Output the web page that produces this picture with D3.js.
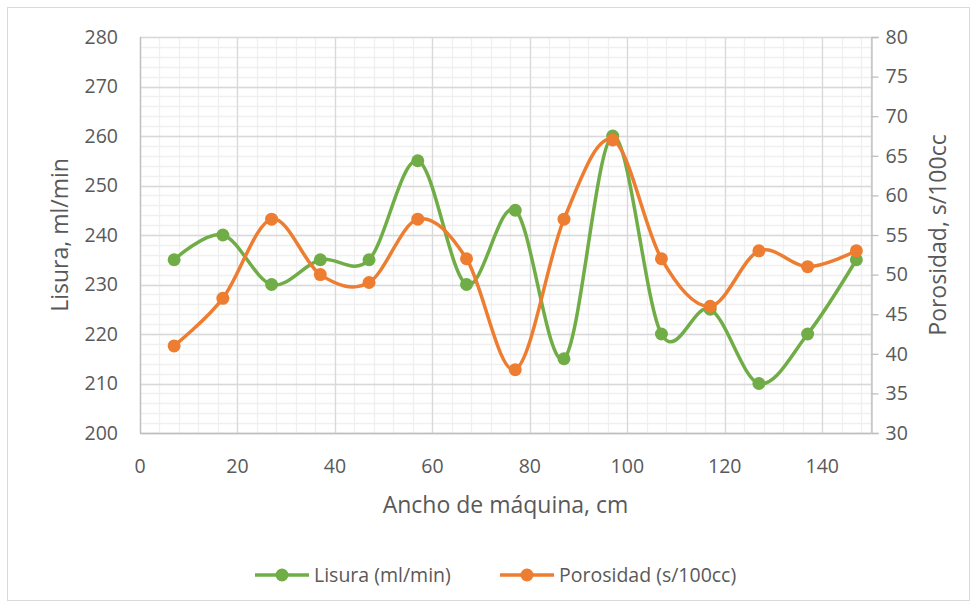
<!DOCTYPE html>
<html>
<head>
<meta charset="utf-8">
<script src="https://cdn.jsdelivr.net/npm/d3@7"></script>
<style>
  body { margin: 0; background: #fff; }
  text { font-family: "Open Sans", sans-serif; fill: #595959; }
</style>
</head>
<body>
<div id="chart"></div>
<script>
// data
const anchos = [7, 17, 27, 37, 47, 57, 67, 77, 87, 97, 107, 117, 127, 137, 147];
const lisura = [235, 240, 230, 235, 235, 255, 230, 245, 215, 260, 220, 225, 210, 220, 235];
const porosidad = [41, 47, 57, 50, 49, 57, 52, 38, 57, 67, 52, 46, 53, 51, 53];
const xTicks = [0, 20, 40, 60, 80, 100, 120, 140];
const leftTicks = [200, 210, 220, 230, 240, 250, 260, 270, 280];
const rightTicks = [30, 35, 40, 45, 50, 55, 60, 65, 70, 75, 80];

const W = 977, H = 608;
const margin = { top: 37, right: 106, bottom: 175, left: 140 };
const green = '#70AD47', orange = '#ED7D31';
const tickFont = 19.5, titleFont = 23;

const svg = d3.select('#chart').append('svg').attr('width', W).attr('height', H);

// chart border
svg.append('rect')
  .attr('x', 7.5).attr('y', 7.5)
  .attr('width', W - 15).attr('height', H - 15)
  .attr('fill', 'none').attr('stroke', '#d9d9d9');

const x = d3.scaleLinear().domain([0, 150]).range([margin.left, W - margin.right]);
const yL = d3.scaleLinear().domain([200, 280]).range([H - margin.bottom, margin.top]);
const yR = d3.scaleLinear().domain([30, 80]).range([H - margin.bottom, margin.top]);

const grid = svg.append('g');
// minor grid
grid.selectAll('.vmin').data(d3.range(0, 151, 4)).enter().append('line')
  .attr('x1', d => Math.round(x(d)) + 0.5).attr('x2', d => Math.round(x(d)) + 0.5)
  .attr('y1', yL(200)).attr('y2', yL(280))
  .attr('stroke', '#f0f0f0').attr('stroke-width', 1.3);
grid.selectAll('.hmin').data(d3.range(200, 281, 2)).enter().append('line')
  .attr('y1', d => Math.round(yL(d)) + 0.5).attr('y2', d => Math.round(yL(d)) + 0.5)
  .attr('x1', x(0)).attr('x2', x(150))
  .attr('stroke', '#f0f0f0').attr('stroke-width', 1.3);
// major grid
grid.selectAll('.vmaj').data(xTicks.concat([150])).enter().append('line')
  .attr('x1', d => Math.round(x(d)) + 0.5).attr('x2', d => Math.round(x(d)) + 0.5)
  .attr('y1', yL(200)).attr('y2', yL(280))
  .attr('stroke', '#d9d9d9').attr('stroke-width', 1.3);
grid.selectAll('.hmaj').data(leftTicks).enter().append('line')
  .attr('y1', d => Math.round(yL(d)) + 0.5).attr('y2', d => Math.round(yL(d)) + 0.5)
  .attr('x1', x(0)).attr('x2', x(150))
  .attr('stroke', '#d9d9d9').attr('stroke-width', 1.3);

// axes lines
svg.append('line').attr('x1', x(0)).attr('x2', x(150))
  .attr('y1', yL(200) + 0.5).attr('y2', yL(200) + 0.5)
  .attr('stroke', '#bfbfbf').attr('stroke-width', 1.3);
svg.append('line').attr('x1', x(0) + 0.5).attr('x2', x(0) + 0.5)
  .attr('y1', yL(200)).attr('y2', yL(280))
  .attr('stroke', '#bfbfbf').attr('stroke-width', 1.3);

// right axis with outside ticks
const rAxis = svg.append('g').attr('transform', `translate(${x(150) + 0.5},0)`)
  .call(d3.axisRight(yR).tickValues(rightTicks).tickSize(7).tickPadding(7));
rAxis.select('.domain').attr('stroke', '#bfbfbf').attr('stroke-width', 1.3);
rAxis.selectAll('.tick line').attr('stroke', '#bfbfbf').attr('stroke-width', 1.3);
rAxis.selectAll('text').attr('font-size', tickFont).attr('fill', '#595959')
  .style('font-family', '"Open Sans", sans-serif');

// left labels
svg.append('g').selectAll('text').data(leftTicks).enter().append('text')
  .attr('x', 118).attr('y', d => yL(d)).attr('dy', '0.35em')
  .attr('text-anchor', 'end').attr('font-size', tickFont).text(d => d);

// bottom labels
svg.append('g').selectAll('text').data(xTicks).enter().append('text')
  .attr('x', d => x(d)).attr('y', 466).attr('dy', '0.35em')
  .attr('text-anchor', 'middle').attr('font-size', tickFont).text(d => d);

// axis titles
svg.append('text').attr('x', (x(0) + x(150)) / 2).attr('y', 505).attr('dy', '0.35em')
  .attr('text-anchor', 'middle').attr('font-size', titleFont).text('Ancho de máquina, cm');
svg.append('text').attr('transform', `translate(60,${(yL(200) + yL(280)) / 2}) rotate(-90)`)
  .attr('dy', '0.35em').attr('text-anchor', 'middle').attr('font-size', titleFont).text('Lisura, ml/min');
svg.append('text').attr('transform', `translate(938,${(yL(200) + yL(280)) / 2}) rotate(-90)`)
  .attr('dy', '0.35em').attr('text-anchor', 'middle').attr('font-size', titleFont).text('Porosidad, s/100cc');

// series
const series = [
  { name: 'Lisura (ml/min)', vals: lisura, y: yL, color: green },
  { name: 'Porosidad (s/100cc)', vals: porosidad, y: yR, color: orange }
];

series.forEach(s => {
  const line = d3.line()
    .x((d, i) => x(anchos[i]))
    .y(d => s.y(d))
    .curve(d3.curveCardinal.tension(0));
  const g = svg.append('g');
  g.append('path').datum(s.vals).attr('d', line)
    .attr('fill', 'none').attr('stroke', s.color).attr('stroke-width', 3.5)
    .attr('stroke-linecap', 'round');
  g.selectAll('circle').data(s.vals).enter().append('circle')
    .attr('cx', (d, i) => x(anchos[i])).attr('cy', d => s.y(d))
    .attr('r', 6.5).attr('fill', s.color);
});

// legend
const legendX = [255, 500];
series.forEach((s, i) => {
  const g = svg.append('g').attr('transform', `translate(${legendX[i]},575)`);
  g.append('line').attr('x1', 0).attr('x2', 54).attr('y1', 0).attr('y2', 0)
    .attr('stroke', s.color).attr('stroke-width', 3.5);
  g.append('circle').attr('cx', 27).attr('cy', 0).attr('r', 6.5).attr('fill', s.color);
  g.append('text').attr('x', 59).attr('y', 0).attr('dy', '0.35em')
    .attr('font-size', tickFont).text(s.name);
});
</script>
</body>
</html>
